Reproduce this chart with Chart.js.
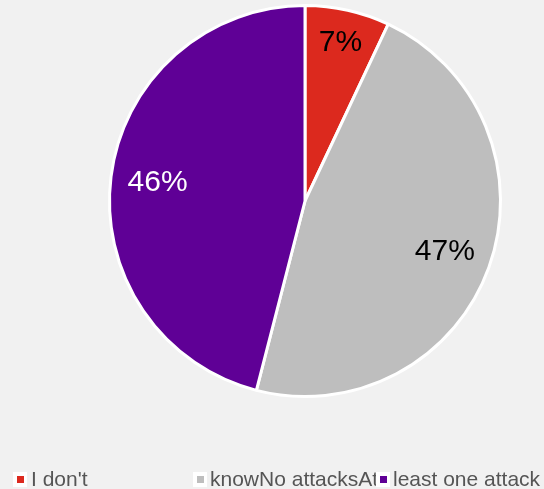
<!DOCTYPE html>
<html>
<head>
<meta charset="utf-8">
<script src="https://cdn.jsdelivr.net/npm/chart.js@4/dist/chart.umd.min.js"></script>
<style>
  html, body { margin: 0; padding: 0; background: #f1f1f1; }
  #wrap { position: relative; width: 544px; height: 489px; overflow: hidden; }
  #c { position: absolute; left: 0; top: 0; }
  .lg-box { position: absolute; top: 472px; width: 14px; height: 15px; background: #fff; }
  .lg-box span { position: absolute; left: 4px; top: 4px; width: 7px; height: 7px; }
  .lg-text { position: absolute; top: 467px; font: 21px "Liberation Sans", Arial, sans-serif;
             color: #555; white-space: nowrap; line-height: 24px; }
</style>
</head>
<body>
<div id="wrap">
  <canvas id="c" width="544" height="489"></canvas>
</div>
<script>
// Survey answers and their shares (percent)
const categories = ["I don't know", "No attacks", "At least one attack"];
const shares = [7, 47, 46];
const sliceColors = ['#dc291e', '#bebebe', '#5f0096'];
const labelColors = ['#000000', '#000000', '#ffffff'];

// Percentage labels drawn inside each slice; narrow slices get their label further out
const sliceLabels = {
  id: 'sliceLabels',
  afterDatasetsDraw(chart) {
    const ctx = chart.ctx;
    const meta = chart.getDatasetMeta(0);
    ctx.save();
    ctx.font = '30px "Liberation Sans", Arial, sans-serif';
    ctx.textAlign = 'center';
    ctx.textBaseline = 'middle';
    meta.data.forEach((arc, i) => {
      const p = arc.getProps(['x', 'y', 'startAngle', 'endAngle', 'outerRadius'], true);
      const mid = (p.startAngle + p.endAngle) / 2;
      const r = p.outerRadius * (shares[i] < 10 ? 0.83 : 0.76);
      ctx.fillStyle = labelColors[i];
      ctx.fillText(shares[i] + '%', p.x + Math.cos(mid) * r, p.y + Math.sin(mid) * r);
    });
    ctx.restore();
  }
};

new Chart(document.getElementById('c'), {
  type: 'pie',
  data: {
    labels: categories,
    datasets: [{
      data: shares,
      backgroundColor: sliceColors,
      borderColor: '#ffffff',
      borderWidth: 3,
      hoverOffset: 0
    }]
  },
  options: {
    responsive: false,
    animation: false,
    devicePixelRatio: 1,
    layout: { padding: { left: 108, right: 42, top: 4, bottom: 91 } },
    plugins: {
      legend: { display: false },
      tooltip: { enabled: false }
    }
  },
  plugins: [sliceLabels]
});

// Legend row along the bottom: colour keys in three columns with the label text running across them
const wrap = document.getElementById('wrap');
const words = categories.join('').split(' ');
const legendPieces = [words.slice(0, 2).join(' '), words.slice(2, 4).join(' '), words.slice(4).join(' ')];
const boxLeft = [13, 193, 376];
const textLeft = [31, 210, 393];
legendPieces.forEach((txt, i) => {
  const t = document.createElement('div');
  t.className = 'lg-text';
  t.style.left = textLeft[i] + 'px';
  t.textContent = txt;
  wrap.appendChild(t);
});
sliceColors.forEach((col, i) => {
  const b = document.createElement('div');
  b.className = 'lg-box';
  b.style.left = boxLeft[i] + 'px';
  const s = document.createElement('span');
  s.style.background = col;
  b.appendChild(s);
  wrap.appendChild(b);
});
</script>
</body>
</html>
